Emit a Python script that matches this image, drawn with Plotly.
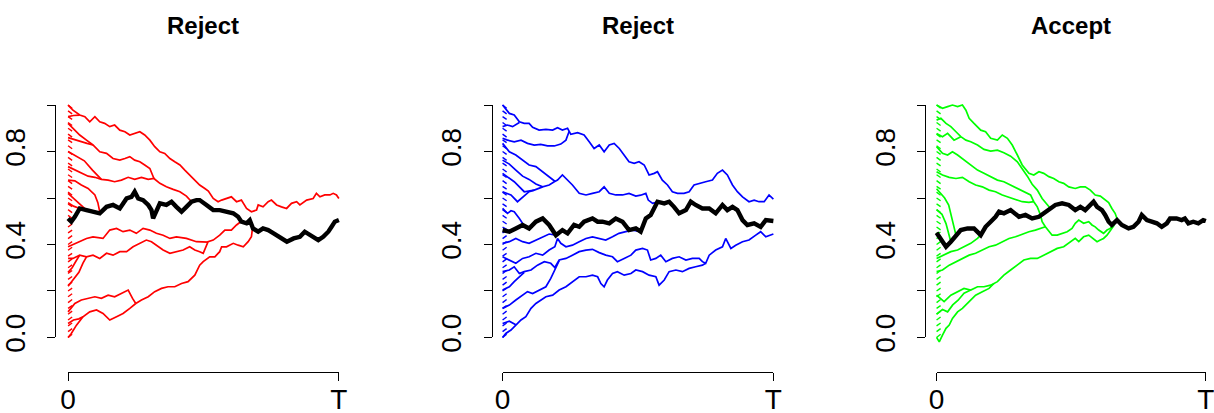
import plotly.graph_objects as go

# ---------------------------------------------------------------------------
# Coupled sample paths: time is given in percent of T, value on [0, 1].
# ---------------------------------------------------------------------------
TITLES = ["Reject", "Reject", "Accept"]
COLORS = ["#FF0000", "#0000FF", "#00FF00"]
Y_TICKS = [0.0, 0.2, 0.4, 0.6, 0.8, 1.0]
Y_TICK_TEXT = ["0.0", "", "0.4", "", "0.8", ""]
X_TICKS = [0, 100]
X_TICK_TEXT = ["0", "T"]

# short starting segments from the grid of initial states
COMB_START = [0.000, 0.025, 0.050, 0.075, 0.100, 0.125, 0.150, 0.175, 0.200, 0.225,
              0.250, 0.275, 0.300, 0.325, 0.350, 0.375, 0.400, 0.425, 0.450, 0.475,
              0.500, 0.525, 0.550, 0.575, 0.600, 0.625, 0.650, 0.675, 0.700, 0.725,
              0.750, 0.775, 0.800, 0.825, 0.850, 0.875, 0.900, 0.925, 0.950, 0.975, 1.000]
COMB_END_RED = [0.014, 0.038, 0.062, 0.088, 0.113, 0.137, 0.163, 0.188, 0.212, 0.238,
                0.262, 0.288, 0.312, 0.338, 0.362, 0.388, 0.412, 0.438, 0.462, 0.488,
                0.510, 0.513, 0.537, 0.563, 0.588, 0.612, 0.638, 0.662, 0.688, 0.712,
                0.738, 0.762, 0.788, 0.812, 0.838, 0.862, 0.888, 0.912, 0.938, 0.962, 0.986]
COMB_END_BLUE = [0.014, 0.038, 0.062, 0.088, 0.113, 0.137, 0.163, 0.188, 0.212, 0.238,
                 0.262, 0.288, 0.312, 0.338, 0.362, 0.388, 0.412, 0.438, 0.460, 0.465,
                 0.488, 0.513, 0.537, 0.563, 0.588, 0.612, 0.638, 0.662, 0.688, 0.712,
                 0.738, 0.762, 0.788, 0.812, 0.838, 0.862, 0.888, 0.912, 0.938, 0.962, 0.986]
COMB_END_GREEN = [0.014, 0.038, 0.062, 0.088, 0.113, 0.137, 0.163, 0.188, 0.212, 0.238,
                  0.262, 0.288, 0.312, 0.338, 0.362, 0.388, 0.412, 0.438, 0.452, 0.463,
                  0.488, 0.513, 0.537, 0.563, 0.588, 0.612, 0.638, 0.662, 0.688, 0.712,
                  0.738, 0.762, 0.788, 0.812, 0.838, 0.862, 0.888, 0.912, 0.938, 0.962, 0.986]
COMB_DT = 1.5

# ---------------------------- panel 1 (red) --------------------------------
black_1 = [(0, .512), (1.2, .498), (2.5, .519), (4.3, .555), (6.8, .548), (9.2, .541),
           (11.7, .534), (14.2, .562), (16.6, .570), (19.1, .555), (21.6, .598), (23.4, .605),
           (24.6, .627), (25.9, .598), (27.7, .591), (29.6, .570), (30.8, .548), (31.4, .512),
           (32.6, .548), (33.9, .577), (36.3, .570), (38.2, .584), (40.0, .562), (41.9, .541),
           (43.7, .562), (45.6, .584), (47.4, .591), (48.6, .591), (51.1, .570), (53.6, .548),
           (56.0, .548), (58.5, .541), (61.0, .534), (62.8, .519), (64.0, .498), (65.9, .491),
           (67.1, .505), (68.3, .469), (70.2, .455), (72.0, .469), (73.9, .462), (75.9, .448),
           (78.3, .433), (80.8, .412), (83.3, .426), (85.6, .433), (87.4, .455), (89.3, .440),
           (92.4, .419), (94.2, .433), (96.1, .455), (97.3, .476), (98.5, .498), (100, .505)]
red_a = [(0, 1.0), (1.8, .978), (4.3, .957), (6.2, .950), (8.0, .928), (9.9, .950), (11.7, .928),
         (13.5, .921), (15.4, .907), (17.2, .914), (19.1, .892), (21.0, .885), (22.8, .871),
         (24.6, .878), (26.5, .885), (28.3, .871), (30.2, .849), (32.0, .821), (33.9, .799),
         (35.7, .792), (37.6, .770), (39.4, .756), (41.3, .742), (43.1, .720), (45.0, .699),
         (46.8, .677), (48.6, .656), (50.5, .641), (51.8, .630), (53.6, .598), (55.4, .584),
         (56.7, .591), (58.5, .598), (60.3, .605), (62.2, .584), (64.0, .591), (65.9, .555),
         (67.7, .541), (69.6, .548), (70.2, .570), (72.0, .562), (73.9, .584), (75.1, .591),
         (77.0, .570), (78.8, .562), (80.7, .555), (82.5, .577), (84.4, .584), (85.6, .570),
         (88.1, .591), (90.5, .598), (91.7, .620), (93.0, .605), (94.8, .613), (96.7, .613),
         (97.9, .620), (99.1, .613), (100, .598)]
red_b = [(0, .921), (1.8, .900), (4.3, .871), (6.8, .849), (9.2, .828), (11.7, .799), (14.2, .792),
         (16.6, .770), (19.1, .763), (21.0, .770), (22.8, .778), (24.6, .763), (26.5, .756),
         (28.3, .742), (30.2, .727), (31.7, .684)]
red_c = [(0, .735), (2.5, .720), (4.9, .706), (7.4, .694), (9.9, .689), (12.3, .680), (14.8, .677),
         (17.2, .670), (19.7, .677), (22.2, .689), (24.6, .680), (27.1, .689), (29.6, .680),
         (31.7, .684), (33.9, .663), (36.3, .648), (38.8, .637), (41.3, .627), (43.7, .608),
         (45.6, .584)]
red_g = [(0, .677), (2.5, .674), (4.9, .656), (7.4, .641), (9.9, .613), (11.0, .580), (11.7, .540)]
red_d = [(0, .390), (3.1, .405), (6.8, .426), (9.2, .433), (12.9, .426), (15.4, .462), (17.9, .469),
         (20.3, .455), (22.8, .462), (25.2, .448), (27.7, .469), (30.2, .462), (32.6, .448),
         (35.1, .440), (37.6, .426), (40.0, .433), (43.7, .426), (47.4, .412), (51.7, .410)]
red_e = [(0, .340), (1.8, .340), (4.3, .354), (6.8, .347), (9.2, .354), (11.7, .340), (14.2, .362),
         (16.6, .354), (19.1, .369), (21.6, .369), (24.0, .390), (26.5, .405), (28.9, .419),
         (30.8, .412), (32.6, .397), (35.1, .376), (37.6, .362), (40.0, .369), (42.5, .376),
         (44.9, .390), (46.8, .376), (48.6, .369), (49.9, .362), (51.7, .412), (53.6, .419),
         (56.0, .440), (57.9, .462), (60.3, .462), (62.2, .484), (64.0, .500)]
red_f1 = [(0, .110), (2.5, .146), (4.9, .161), (7.4, .168), (9.9, .175), (12.3, .168), (14.8, .182),
          (17.2, .175), (19.7, .189), (22.2, .204), (23.8, .168), (25.0, .146)]
red_f2 = [(0, .000), (1.2, .017), (3.1, .053), (5.5, .089), (8.0, .110), (10.5, .118), (12.9, .103),
          (15.4, .075), (17.9, .089), (20.3, .103), (22.8, .125), (25.0, .146)]
red_f = [(25.0, .146), (27.1, .161), (29.6, .175), (32.0, .197), (34.5, .211), (36.9, .218),
         (39.4, .218), (41.9, .232), (44.3, .240), (46.8, .268), (48.6, .311), (49.9, .326),
         (52.3, .347), (54.2, .347), (56.0, .369), (56.7, .390), (58.5, .390), (61.0, .405),
         (62.8, .397), (64.7, .390), (66.5, .412), (67.7, .433), (68.1, .469)]
red_m1 = [(0, .860), (2.5, .850), (5.0, .840), (7.0, .835), (9.2, .828)]
red_m2 = [(0, .800), (3.0, .780), (6.0, .760), (9.0, .720), (12.3, .680)]
red_m3 = [(0, .620), (2.0, .600), (4.0, .580), (6.0, .560), (6.8, .548)]
red_m4 = [(0, .580), (2.0, .565), (4.3, .555)]
red_m5 = [(0, .280), (1.5, .300), (3.0, .330), (4.3, .354)]
red_m6 = [(0, .220), (2.0, .250), (4.0, .280), (5.5, .320), (6.8, .347)]
red_m7 = [(0, .060), (2.0, .075), (4.0, .080), (5.5, .089)]
red_m8 = [(0, .950), (2.0, .955), (4.3, .957)]

# ---------------------------- panel 2 (blue) -------------------------------
black_2 = [(0, .462), (2.5, .455), (4.9, .469), (7.4, .484), (9.8, .469), (12.3, .498), (14.8, .512),
           (17.2, .484), (19.7, .440), (22.1, .462), (24.0, .448), (26.4, .484), (28.3, .476),
           (30.1, .498), (33.2, .512), (35.1, .498), (36.9, .498), (39.4, .491), (41.8, .512),
           (44.3, .498), (46.7, .462), (49.2, .469), (51.0, .455), (52.9, .512), (54.7, .527),
           (57.2, .584), (59.7, .577), (61.5, .584), (63.3, .562), (65.2, .534), (67.7, .548),
           (69.5, .584), (71.3, .570), (73.8, .555), (76.3, .555), (78.7, .534), (81.2, .570),
           (83.0, .548), (84.9, .562), (86.7, .548), (88.6, .505), (90.4, .484), (92.9, .491),
           (95.3, .476), (97.2, .505), (100, .501)]
blue_a = [(0, 1.0), (2.5, .964), (4.3, .957), (6.2, .928), (8.0, .921), (9.8, .921), (11.1, .904),
          (13.5, .892), (16.0, .895), (18.5, .892), (20.3, .902), (22.1, .892), (24.0, .900),
          (25.2, .874), (27.7, .881), (30.1, .871), (32.0, .842), (33.8, .813), (35.7, .828),
          (37.5, .799), (39.4, .828), (41.2, .835), (43.1, .813), (44.9, .785), (46.7, .756),
          (48.6, .749), (50.4, .756), (52.3, .742), (54.1, .699), (56.0, .706), (57.2, .713),
          (59.0, .677), (60.9, .656), (62.7, .627), (64.6, .620), (67.0, .620), (68.9, .627),
          (70.7, .656), (72.6, .663), (75.0, .670), (77.5, .677), (79.3, .706), (81.2, .720),
          (83.0, .699), (84.9, .656), (86.7, .627), (88.6, .605), (91.0, .584), (92.9, .591),
          (94.7, .584), (96.6, .584), (98.4, .613), (100, .595)]
blue_b = [(0, .907), (1.8, .914), (3.7, .907), (6.2, .925)]
blue_c = [(0, .857), (1.8, .849), (4.3, .842), (6.8, .849), (9.2, .835), (11.7, .828), (14.1, .831),
          (16.6, .824), (19.1, .824), (21.5, .832), (23.4, .849), (24.6, .887)]
blue_d = [(0, .763), (2.5, .746), (4.9, .720), (7.4, .694), (9.8, .680), (12.3, .660), (14.8, .648),
          (17.2, .656), (19.1, .670), (20.3, .677), (22.1, .699), (24.0, .677), (25.8, .656),
          (28.3, .620), (30.8, .613), (33.2, .620), (35.7, .627), (37.5, .648), (39.4, .620),
          (41.8, .613), (44.3, .613), (46.7, .620), (49.2, .608), (51.0, .612), (52.9, .620),
          (53.8, .591), (55.4, .577), (57.0, .582)]
blue_e = [(0, .835), (2.5, .799), (4.9, .785), (7.4, .763), (9.8, .742), (12.3, .735), (14.8, .713),
          (17.2, .689), (19.3, .672)]
blue_f = [(0, .706), (4.3, .670), (8.0, .627), (11.7, .634), (14.8, .648)]
blue_g = [(0, .627), (3.1, .613), (5.5, .584), (8.0, .608), (9.8, .627), (11.7, .634)]
blue_h = [(0, .555), (1.8, .534), (3.1, .545), (4.3, .541), (6.2, .512), (8.0, .480)]
blue_l1 = [(0, .405), (2.5, .412), (4.9, .426), (7.4, .412), (9.8, .405), (12.3, .419), (14.8, .433),
           (17.2, .445), (19.7, .440)]
blue_l2 = [(0, .347), (2.5, .333), (4.9, .319), (7.4, .340), (9.8, .347), (12.3, .362), (14.8, .354),
           (17.2, .376), (19.3, .390), (20.3, .426), (21.5, .405), (23.4, .390), (25.8, .397),
           (28.3, .412), (30.8, .426), (33.2, .433), (35.7, .426), (38.1, .419), (40.6, .433),
           (43.0, .448), (45.5, .455), (48.0, .462), (51.0, .455)]
blue_p1 = [(0, .283), (2.5, .290), (4.3, .304), (6.2, .275), (8.0, .283), (10.5, .290), (12.9, .311),
           (15.4, .326), (17.8, .319), (19.3, .301), (20.9, .333), (23.4, .340), (25.8, .354),
           (28.3, .369), (30.8, .376), (33.2, .379), (35.7, .365), (38.1, .354), (40.6, .347),
           (42.4, .326), (44.9, .340), (47.4, .354), (49.2, .376), (51.7, .383), (53.5, .376),
           (54.7, .333), (56.6, .340), (58.4, .354), (60.3, .326), (62.7, .340), (65.2, .347),
           (67.7, .333), (70.1, .340), (72.6, .340), (73.8, .326), (75.0, .319), (76.3, .354),
           (78.7, .376), (81.2, .390), (82.4, .426), (84.3, .383), (86.1, .397), (88.6, .412),
           (91.0, .419), (93.5, .440), (95.3, .455), (97.2, .433), (100, .445)]
blue_p2 = [(0, .000), (1.2, .017), (3.1, .032), (4.9, .053), (6.8, .075), (8.6, .089), (10.5, .125),
           (12.3, .146), (14.1, .161), (16.0, .175), (18.5, .182), (20.9, .204), (23.4, .218),
           (25.8, .240), (28.3, .261), (30.8, .261), (33.2, .268), (35.1, .261), (36.3, .232),
           (37.5, .218), (38.7, .247), (40.6, .275), (42.4, .283), (44.9, .268), (47.4, .275),
           (49.2, .290), (51.7, .283), (54.1, .268), (56.6, .261), (57.8, .225), (59.7, .247),
           (61.5, .283), (64.0, .290), (66.4, .283), (68.9, .297), (71.3, .304), (73.8, .311),
           (75.0, .319)]
blue_l5 = [(0, .125), (2.5, .139), (4.9, .161), (7.4, .182), (9.2, .197), (11.1, .189), (13.5, .204),
           (16.0, .218), (17.8, .254), (19.3, .290), (20.9, .330)]
blue_l6 = [(0, .204), (2.5, .218), (4.3, .240), (6.2, .261), (8.0, .280)]
blue_l7 = [(0, .060), (2.5, .070), (4.9, .055)]

# ---------------------------- panel 3 (green) ------------------------------
black_3 = [(0, .450), (1.6, .426), (3.5, .390), (5.3, .412), (7.2, .440), (9.0, .462), (11.5, .469),
           (13.9, .469), (16.4, .440), (18.2, .476), (20.1, .498), (21.9, .519), (23.2, .541),
           (25.0, .534), (27.5, .548), (29.3, .534), (30.6, .519), (33.0, .527), (35.5, .512),
           (38.0, .519), (39.8, .534), (41.7, .555), (44.1, .570), (46.6, .577), (49.1, .570),
           (51.5, .548), (53.4, .562), (55.2, .548), (57.1, .570), (58.3, .584), (59.6, .562),
           (61.4, .548), (62.6, .527), (63.9, .498), (65.1, .484), (67.0, .505), (68.8, .484),
           (71.3, .469), (73.1, .476), (75.0, .498), (76.2, .527), (78.1, .505), (79.9, .498),
           (81.8, .491), (83.6, .476), (85.5, .491), (86.7, .512), (89.1, .512), (91.0, .505),
           (92.2, .512), (93.5, .491), (95.3, .498), (97.2, .491), (99.0, .505), (100, .501)]
green_a = [(0, 1.0), (2.2, .986), (4.1, .993), (5.9, 1.0), (7.8, .993), (9.6, 1.0), (10.9, .978),
           (12.1, .943), (13.9, .921), (16.4, .892), (18.2, .885), (20.1, .857), (22.6, .849),
           (24.4, .871), (26.3, .857), (28.1, .828), (30.0, .785), (31.8, .742), (34.3, .706),
           (36.1, .699), (38.0, .713), (39.8, .706), (41.7, .692), (43.5, .684), (45.4, .670),
           (47.2, .663), (49.1, .648), (51.5, .641), (53.4, .648), (55.2, .648), (57.1, .634),
           (58.9, .613), (60.8, .608), (62.6, .591), (63.9, .580), (65.1, .555), (66.3, .534),
           (67.2, .505)]
green_b = [(0, .935), (1.6, .943), (3.5, .921), (5.3, .907), (7.2, .885), (9.0, .864), (10.9, .849),
           (12.7, .842), (15.2, .828), (17.6, .809), (20.1, .802), (22.6, .806), (25.0, .795),
           (27.5, .780), (30.0, .756), (31.8, .727), (33.7, .694), (35.5, .659), (37.4, .634),
           (39.2, .598), (41.1, .570), (42.3, .555)]
green_b2 = [(0, .878), (2.2, .864), (4.1, .878), (6.5, .849), (9.0, .864)]
green_c = [(0, .821), (2.2, .792), (4.1, .785), (5.9, .799), (7.8, .785), (10.2, .763), (12.7, .742),
           (15.2, .720), (17.6, .706), (20.1, .692), (22.6, .677), (25.0, .670), (27.5, .656),
           (30.0, .641), (32.4, .627), (34.9, .613), (36.1, .584), (37.4, .562), (38.6, .527),
           (39.2, .498), (40.4, .476), (41.7, .455), (42.9, .440), (44.8, .440), (46.6, .448),
           (48.5, .455), (50.3, .469), (51.5, .491), (52.8, .505), (54.6, .491), (56.5, .498),
           (57.7, .484), (58.9, .476), (60.2, .462), (62.0, .448), (63.3, .462), (64.5, .469),
           (65.7, .491), (66.7, .502)]
green_i = [(0, .713), (2.2, .699), (4.7, .689), (7.2, .684), (9.6, .689), (12.1, .670), (14.5, .656),
           (17.0, .648), (19.5, .634), (21.9, .627), (24.4, .613), (26.9, .603), (29.3, .591),
           (31.8, .584), (34.3, .581), (36.1, .584)]
green_e = [(0, .283), (2.2, .290), (4.7, .311), (7.2, .326), (9.6, .340), (12.1, .354), (14.5, .362),
           (17.0, .376), (19.5, .390), (21.9, .397), (24.4, .412), (26.9, .426), (29.3, .433),
           (31.8, .445), (34.3, .455), (36.7, .462), (39.2, .473), (40.4, .476)]
green_f = [(0, .340), (2.8, .354), (5.3, .369), (7.8, .376), (10.2, .390), (12.7, .405), (15.2, .426),
           (16.4, .440)]
green_d = [(0, .182), (2.8, .154), (5.3, .182), (7.8, .197), (10.2, .211), (12.7, .204), (15.2, .218),
           (17.6, .218), (20.1, .225), (22.6, .240), (25.0, .268), (27.5, .290), (30.0, .311),
           (32.4, .333), (34.9, .340), (37.4, .340), (39.8, .354), (42.3, .369), (44.8, .383),
           (47.2, .390), (49.7, .412), (51.5, .426), (52.8, .412), (54.6, .433), (56.5, .440),
           (58.3, .426), (59.6, .412), (60.8, .419), (62.0, .426), (63.3, .440), (64.5, .462),
           (66.0, .484)]
green_h = [(0, .000), (1.0, -.019), (2.2, .010), (3.5, .039), (4.7, .053), (5.9, .082), (7.8, .110),
           (9.6, .125), (12.1, .154), (14.5, .182), (17.0, .197), (19.5, .211), (21.3, .232)]
green_l = [(0, .100), (2.2, .120), (4.1, .110), (6.0, .140), (8.0, .160), (10.2, .190), (12.7, .204)]
green_j = [(0, .640), (1.5, .620), (3.0, .600), (4.5, .570), (5.5, .520), (6.5, .470), (7.2, .440)]
green_k = [(0, .550), (2.0, .530), (3.5, .490), (4.5, .450), (5.3, .412)]

PANELS = [
    dict(paths=[red_a, red_b, red_c, red_g, red_d, red_e, red_f1, red_f2, red_f, red_m1, red_m2,
                red_m3, red_m4, red_m5, red_m6, red_m7, red_m8],
         black=black_1, comb=COMB_END_RED),
    dict(paths=[blue_a, blue_b, blue_c, blue_d, blue_e, blue_f, blue_g, blue_h, blue_l1, blue_l2,
                blue_p1, blue_p2, blue_l5, blue_l6, blue_l7],
         black=black_2, comb=COMB_END_BLUE),
    dict(paths=[green_a, green_b, green_b2, green_c, green_i, green_e, green_f, green_d, green_h,
                green_l, green_j, green_k],
         black=black_3, comb=COMB_END_GREEN),
]

# ---------------------------------------------------------------------------
# Layout geometry.  Positions below are wanted positions on the final
# 1214 x 413 picture; VIEW_* describe how a figure pixel ends up there
# (page offset and the scale of the captured page).
# ---------------------------------------------------------------------------
W, H = 1226, 421
VIEW_OX, VIEW_OY = 8.0, 0.0
VIEW_SX, VIEW_SY = 0.985, 0.964
T0_PX = [68.0, 502.0, 935.5]      # where t = 0 sits in each panel
T_SPAN_PX = [270.5, 270.5, 269.0] # pixels from 0 to T
V0_PY, V1_PY = 337.3, 105.0       # value 0 and value 1
YAXIS_PX = [55.0, 491.0, 924.0]
XAXIS_PY = 372.0
TITLE_PY = 25.3
PAD_T, PAD_V = 1.5, 0.04
FONT = "Liberation Sans, Arial, Helvetica, sans-serif"


def fx(px):
    return min(max(((px - VIEW_OX) / VIEW_SX) / W, 0.0), 1.0)


def fy(py):
    return min(max(1 - ((py - VIEW_OY) / VIEW_SY) / H, 0.0), 1.0)


fig = go.Figure()
layout = dict(width=W, height=H, margin=dict(l=0, r=0, t=0, b=0),
              paper_bgcolor="white", plot_bgcolor="rgba(0,0,0,0)", showlegend=False)

v_span = V0_PY - V1_PY
annotations = []
for i, panel in enumerate(PANELS):
    k_data, k_disp = i + 1, i + 4
    xa_d, ya_d = f"x{k_data}", f"y{k_data}"
    xa_s, ya_s = f"x{k_disp}", f"y{k_disp}"
    color = COLORS[i]
    t0, ppu = T0_PX[i], T_SPAN_PX[i] / 100.0

    # comb of starting segments, one trace
    cx, cy = [], []
    for s, e in zip(COMB_START, panel["comb"]):
        cx += [0, COMB_DT, None]
        cy += [s, e, None]
    fig.add_trace(go.Scatter(x=cx, y=cy, mode="lines", line=dict(color=color, width=1.4),
                             xaxis=xa_d, yaxis=ya_d, hoverinfo="skip"))
    for path in panel["paths"]:
        fig.add_trace(go.Scatter(x=[p[0] for p in path], y=[p[1] for p in path], mode="lines",
                                 line=dict(color=color, width=1.7),
                                 xaxis=xa_d, yaxis=ya_d, hoverinfo="skip"))
    blk = panel["black"]
    fig.add_trace(go.Scatter(x=[p[0] for p in blk], y=[p[1] for p in blk], mode="lines",
                             line=dict(color="black", width=4.4),
                             xaxis=xa_d, yaxis=ya_d, hoverinfo="skip"))
    # empty trace that carries the visible axes
    fig.add_trace(go.Scatter(x=[None], y=[None], mode="lines", xaxis=xa_s, yaxis=ya_s,
                             hoverinfo="skip"))

    layout[f"xaxis{k_data}"] = dict(domain=[fx(t0 - PAD_T * ppu), fx(t0 + (100 + PAD_T) * ppu)],
                                    range=[-PAD_T, 100 + PAD_T], visible=False, anchor=ya_d)
    layout[f"yaxis{k_data}"] = dict(domain=[fy(V0_PY + PAD_V * v_span), fy(V1_PY - PAD_V * v_span)],
                                    range=[-PAD_V, 1 + PAD_V], visible=False, anchor=xa_d)
    axis_style = dict(showline=True, linecolor="black", linewidth=1, ticks="outside",
                      ticklen=8, tickwidth=1, tickcolor="black", showgrid=False, zeroline=False,
                      tickfont=dict(family=FONT, size=28, color="black"))
    layout[f"xaxis{k_disp}"] = dict(domain=[fx(t0), fx(t0 + 100 * ppu)], range=[0, 100],
                                    anchor="free", position=fy(XAXIS_PY),
                                    tickmode="array", tickvals=X_TICKS, ticktext=X_TICK_TEXT,
                                    ticklabelstandoff=-6, **axis_style)
    layout[f"yaxis{k_disp}"] = dict(domain=[fy(V0_PY), fy(V1_PY)], range=[0, 1],
                                    anchor="free", position=fx(YAXIS_PX[i]),
                                    tickmode="array", tickvals=Y_TICKS, ticktext=Y_TICK_TEXT,
                                    tickangle=-90, ticklabelstandoff=11, **axis_style)
    annotations.append(dict(text=f"<b>{TITLES[i]}</b>", x=fx(t0 + 50 * ppu), y=fy(TITLE_PY),
                            xref="paper", yref="paper", xanchor="center", yanchor="middle",
                            showarrow=False, font=dict(family=FONT, size=24, color="black")))

layout["annotations"] = annotations
fig.update_layout(**layout)
fig.write_html("out.html")
